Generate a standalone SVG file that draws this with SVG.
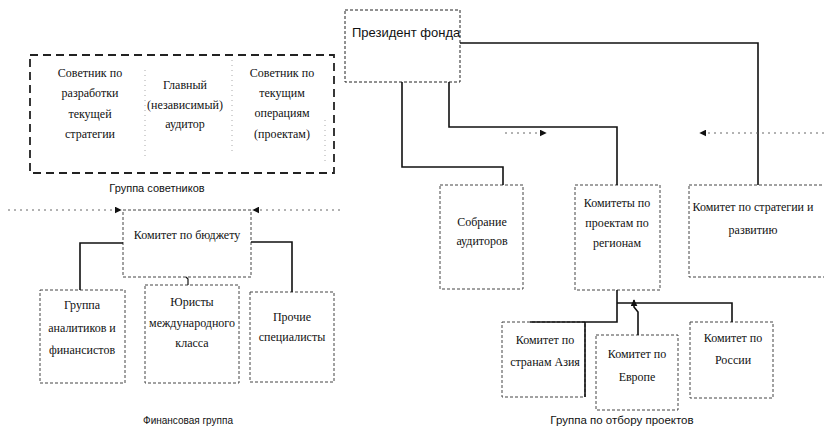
<svg xmlns="http://www.w3.org/2000/svg" width="824" height="431" viewBox="0 0 824 431">
<defs>
<style>
.bg{fill:#fff}
.box{fill:#fff;stroke:#444;stroke-width:1;stroke-dasharray:3 2}
.grp{fill:none;stroke:#222;stroke-width:1.8;stroke-dasharray:8 5}
.faint{fill:none;stroke:#aaa;stroke-width:1;stroke-dasharray:1 4}
.dot{fill:none;stroke:#666;stroke-width:1;stroke-dasharray:2 4}
.con{fill:none;stroke:#111;stroke-width:1.6}
.t{font-family:"Liberation Serif","DejaVu Serif",serif;font-size:12px;fill:#111;text-anchor:middle}
.s{font-family:"Liberation Sans","DejaVu Sans",sans-serif;font-size:11px;fill:#111;text-anchor:middle}
</style>
<marker id="ah" viewBox="0 0 10 10" refX="9" refY="5" markerWidth="7" markerHeight="7" orient="auto-start-reverse" markerUnits="userSpaceOnUse">
<path d="M0,0 L10,5 L0,10 z" fill="#111"/>
</marker>
</defs>
<rect class="bg" width="824" height="431"/>

<g id="advisors-group">
<rect class="grp" x="30" y="55" width="304" height="118"/>
<line class="faint" x1="145" y1="70" x2="145" y2="160"/>
<line class="faint" x1="232" y1="60" x2="232" y2="155"/>
<line class="faint" x1="325" y1="120" x2="325" y2="165"/>
<text class="s" x="157" y="192">Группа советников</text>
</g>
<g id="advisor-strategy">
<text class="t" x="90" y="77">Советник по</text>
<text class="t" x="90" y="97">разработки</text>
<text class="t" x="90" y="118">текущей</text>
<text class="t" x="90" y="138">стратегии</text>
</g>
<g id="chief-auditor">
<text class="t" x="185" y="89">Главный</text>
<text class="t" x="185" y="109">(независимый)</text>
<text class="t" x="185" y="128">аудитор</text>
</g>
<g id="advisor-operations">
<text class="t" x="282" y="77">Советник по</text>
<text class="t" x="282" y="97">текущим</text>
<text class="t" x="282" y="117">операциям</text>
<text class="t" x="282" y="138">(проектам)</text>
</g>

<g id="budget">
<rect class="box" x="123" y="210" width="128" height="67"/>
<text class="t" x="187" y="239">Комитет по бюджету</text>
</g>
<g id="analysts">
<rect class="box" x="40" y="290" width="85" height="93"/>
<text class="t" x="82" y="309">Группа</text>
<text class="t" x="82" y="332">аналитиков и</text>
<text class="t" x="82" y="354">финансистов</text>
</g>
<g id="lawyers">
<rect class="box" x="145" y="285" width="94" height="98"/>
<text class="t" x="192" y="306">Юристы</text>
<text class="t" x="192" y="327">международного</text>
<text class="t" x="192" y="347">класса</text>
</g>
<g id="others">
<rect class="box" x="250" y="292" width="84" height="90"/>
<text class="t" x="292" y="321">Прочие</text>
<text class="t" x="292" y="341">специалисты</text>
</g>
<g id="finance-label">
<text class="s" x="188" y="424" style="font-size:10px">Финансовая группа</text>
</g>

<g id="president">
<rect class="box" x="345" y="10" width="115" height="72" style="stroke:#222"/>
<text x="352" y="37" style="font-family:'Liberation Sans','DejaVu Sans',sans-serif;font-size:13px;fill:#111">Президент фонда</text>
</g>
<g id="auditors-assembly">
<rect class="box" x="440" y="185" width="83" height="104"/>
<text class="t" x="482" y="226">Собрание</text>
<text class="t" x="482" y="245">аудиторов</text>
</g>
<g id="regional-committees">
<rect class="box" x="575" y="185" width="85" height="105"/>
<text class="t" x="617" y="207">Комитеты по</text>
<text class="t" x="617" y="227">проектам по</text>
<text class="t" x="617" y="247">регионам</text>
</g>
<g id="strategy-committee">
<rect class="box" x="689" y="185" width="140" height="92"/>
<text class="t" x="753" y="211">Комитет по стратегии и</text>
<text class="t" x="753" y="234">развитию</text>
</g>
<g id="asia">
<rect class="box" x="502" y="322" width="83" height="75"/>
<text class="t" x="545" y="344">Комитет по</text>
<text class="t" x="545" y="366">странам Азия</text>
</g>
<g id="europe">
<rect class="box" x="596" y="335" width="82" height="75"/>
<text class="t" x="637" y="358">Комитет по</text>
<text class="t" x="637" y="381">Европе</text>
</g>
<g id="russia">
<rect class="box" x="690" y="322" width="83" height="76"/>
<text class="t" x="733" y="342">Комитет по</text>
<text class="t" x="733" y="364">России</text>
</g>
<g id="selection-label">
<text class="s" x="622" y="424" style="font-size:11.5px">Группа по отбору проектов</text>
</g>

<g id="connectors">
<polyline class="con" points="460,43 758,43 758,185"/>
<polyline class="con" points="402,82 402,167 503,167 503,185"/>
<polyline class="con" points="449,82 449,127 617,127 617,185"/>
<line class="dot" x1="505" y1="133" x2="546" y2="133" marker-end="url(#ah)"/>
<line class="dot" x1="824" y1="133" x2="700" y2="133" marker-end="url(#ah)"/>
<polyline class="con" points="123,243 80,243 80,290"/>
<polyline class="con" points="251,242 292,242 292,292"/>
<polyline class="con" style="stroke-width:1.2" points="188,285 188,279 186,277"/>
<line class="dot" x1="8" y1="210" x2="121" y2="210" marker-end="url(#ah)"/>
<line class="dot" x1="340" y1="210" x2="253" y2="210" marker-end="url(#ah)"/>
<polyline class="con" points="617,290 617,322 530,322"/>
<line class="con" x1="585" y1="322" x2="585" y2="397"/>
<polyline class="con" points="617,303 732,303 732,322"/>
<polyline class="con" points="638,335 638,312 634,307 634,300" marker-end="url(#ah)"/>
</g>
</svg>
